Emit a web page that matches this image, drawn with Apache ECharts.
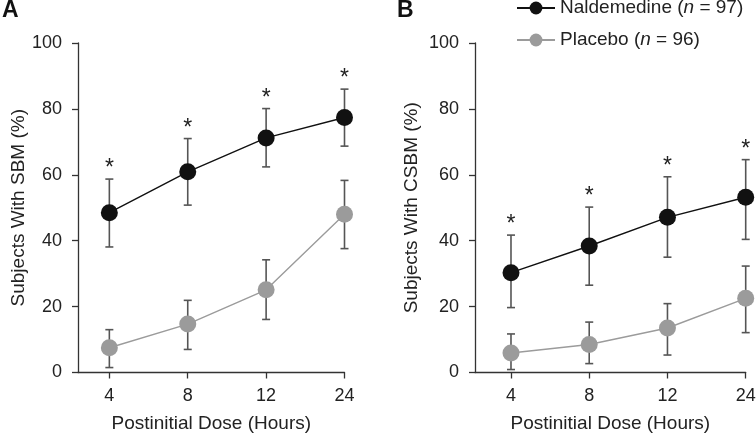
<!DOCTYPE html>
<html>
<head>
<meta charset="utf-8">
<script src="https://cdn.jsdelivr.net/npm/echarts@6/dist/echarts.min.js"></script>
<style>
  html, body { margin: 0; padding: 0; background: #fff; }
  #chart { width: 756px; height: 434px; }
</style>
</head>
<body>
<div id="chart"></div>
<script>
// doses (hours after first dose)
const doses = ['4', '8', '12', '24']
const tickIndex = [0, 1, 2, 3]

// panel A: SBM
const naldSBM = [48.5, 60.9, 71.2, 77.4]
const naldSBMLow = [38.1, 50.8, 62.4, 68.7]
const naldSBMHigh = [58.7, 71.0, 80.1, 86.0]
const placSBM = [7.5, 14.7, 25.1, 48.0]
const placSBMLow = [1.5, 7.0, 16.1, 37.6]
const placSBMHigh = [13.0, 21.9, 34.2, 58.3]

// panel B: CSBM
const naldCSBM = [30.3, 38.4, 47.1, 53.2]
const naldCSBMLow = [19.7, 26.5, 35.0, 40.4]
const naldCSBMHigh = [41.7, 50.2, 59.4, 64.6]
const placCSBM = [5.9, 8.5, 13.5, 22.5]
const placCSBMLow = [0.9, 2.7, 5.3, 12.1]
const placCSBMHigh = [11.7, 15.3, 20.9, 32.3]

// significance markers
const sigSBM = [true, true, true, true]
const sigCSBM = [true, true, true, true]

const groupNames = ['Naldemedine', 'Placebo']
const groupN = [97, 96]

const FONT = 'Liberation Sans'
const BLACK = '#111'
const GREY = '#9b9b9b'

const chart = echarts.init(document.getElementById('chart'))

function pts (vals) {
  return vals.map((v, i) => [i, v])
}

function errData (low, high, sig) {
  return low.map((l, i) => [i, l, high[i], sig ? (sig[i] ? 1 : 0) : 0])
}

function errSeries (idx, low, high, sig) {
  return {
    type: 'custom',
    xAxisIndex: idx,
    yAxisIndex: idx,
    z: 1,
    silent: true,
    data: errData(low, high, sig),
    renderItem (params, api) {
      const lo = api.coord([api.value(0), api.value(1)])
      const hi = api.coord([api.value(0), api.value(2)])
      const cap = 4
      const st = { stroke: '#555', lineWidth: 1.6 }
      const children = [
        { type: 'line', shape: { x1: lo[0], y1: lo[1], x2: hi[0], y2: hi[1] }, style: st },
        { type: 'line', shape: { x1: hi[0] - cap, y1: hi[1], x2: hi[0] + cap, y2: hi[1] }, style: st },
        { type: 'line', shape: { x1: lo[0] - cap, y1: lo[1], x2: lo[0] + cap, y2: lo[1] }, style: st }
      ]
      if (api.value(3) === 1) {
        children.push({
          type: 'text',
          style: {
            text: '*',
            x: hi[0],
            y: hi[1] - 10,
            align: 'center',
            verticalAlign: 'middle',
            fontSize: 23,
            fontFamily: FONT,
            fill: '#222'
          }
        })
      }
      return { type: 'group', children }
    }
  }
}

function lineSeries (idx, name, vals, color) {
  return {
    name,
    type: 'line',
    xAxisIndex: idx,
    yAxisIndex: idx,
    z: 3,
    data: pts(vals),
    symbol: 'circle',
    symbolSize: 17,
    itemStyle: { color, borderWidth: 0 },
    lineStyle: { color, width: 1.4 },
    emphasis: { disabled: true }
  }
}

function xAxisOf (idx, min) {
  return {
    type: 'value',
    gridIndex: idx,
    min,
    max: 3,
    name: 'Postinitial Dose (Hours)',
    nameLocation: 'middle',
    nameGap: 42,
    nameTextStyle: { fontSize: 19, fontFamily: FONT, color: '#222' },
    axisLine: { show: true, onZero: false, lineStyle: { color: '#333', width: 1.3 } },
    axisTick: { show: true, length: 6, customValues: tickIndex, lineStyle: { color: '#333', width: 1.3 } },
    axisLabel: {
      customValues: tickIndex,
      formatter: v => doses[Math.round(v)],
      margin: 15,
      fontSize: 18,
      fontFamily: FONT,
      color: '#222'
    },
    splitLine: { show: false }
  }
}

function yAxisOf (idx, name, gap) {
  return {
    type: 'value',
    gridIndex: idx,
    min: 0,
    max: 100,
    interval: 20,
    name,
    nameLocation: 'middle',
    nameGap: gap,
    nameTextStyle: { fontSize: 19, fontFamily: FONT, color: '#222' },
    axisLine: { show: true, onZero: false, lineStyle: { color: '#333', width: 1.3 } },
    axisTick: { show: true, length: 6, lineStyle: { color: '#333', width: 1.3 } },
    axisLabel: { margin: 16, fontSize: 18, fontFamily: FONT, color: '#222' },
    splitLine: { show: false }
  }
}

const option = {
  animation: false,
  backgroundColor: '#fff',
  textStyle: { fontFamily: FONT },
  title: [
    { text: 'A', left: 2, top: -1, padding: 0, textStyle: { fontSize: 23, fontWeight: 'bold', fontFamily: FONT, color: '#111' } },
    { text: 'B', left: 397, top: -1, padding: 0, textStyle: { fontSize: 23, fontWeight: 'bold', fontFamily: FONT, color: '#111' } }
  ],
  legend: {
    orient: 'vertical',
    left: 516,
    top: -2,
    padding: 0,
    itemWidth: 38,
    itemHeight: 16,
    itemGap: 12,
    data: groupNames,
    formatter: name => name + ' ({i|n} = ' + groupN[groupNames.indexOf(name)] + ')',
    textStyle: {
      fontSize: 19,
      fontFamily: FONT,
      color: '#222',
      lineHeight: 20,
      rich: { i: { fontStyle: 'italic', fontSize: 19, fontFamily: FONT, color: '#222' } }
    }
  },
  grid: [
    { left: 78, top: 43, width: 266.5, height: 329.5, containLabel: false, outerBoundsMode: 'none' },
    { left: 475, top: 43, width: 270.7, height: 329.5, containLabel: false, outerBoundsMode: 'none' }
  ],
  xAxis: [xAxisOf(0, -0.4), xAxisOf(1, -0.46)],
  yAxis: [yAxisOf(0, 'Subjects With SBM (%)', 50), yAxisOf(1, 'Subjects With CSBM (%)', 54)],
  series: [
    errSeries(0, naldSBMLow, naldSBMHigh, sigSBM),
    errSeries(0, placSBMLow, placSBMHigh, null),
    lineSeries(0, groupNames[0], naldSBM, BLACK),
    lineSeries(0, groupNames[1], placSBM, GREY),
    errSeries(1, naldCSBMLow, naldCSBMHigh, sigCSBM),
    errSeries(1, placCSBMLow, placCSBMHigh, null),
    lineSeries(1, groupNames[0], naldCSBM, BLACK),
    lineSeries(1, groupNames[1], placCSBM, GREY)
  ]
}

chart.setOption(option)
</script>
</body>
</html>
